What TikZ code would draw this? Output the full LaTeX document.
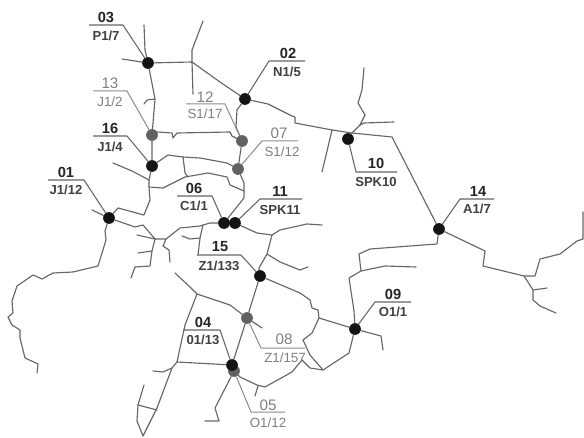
\documentclass[tikz,border=0pt]{standalone}
\usepackage{fontspec}
\setmainfont{Liberation Sans}
\begin{document}
\begin{tikzpicture}[x=0.75pt,y=-0.75pt,
  road/.style={draw=black!60,line width=0.85pt,line join=round,line cap=round},
  blackdot/.style={circle,fill=black!92,inner sep=0pt,minimum size=8.8pt},
  graydot/.style={circle,fill=black!62,inner sep=0pt,minimum size=8.8pt},
  leadblack/.style={draw=black!60,line width=0.8pt,line join=round},
  leadgray/.style={draw=black!45,line width=0.75pt,line join=round},
  numblack/.style={inner sep=0pt,text=black!85,font=\fontsize{11}{11}\selectfont\bfseries},
  subblack/.style={inner sep=0pt,text=black!75,font=\fontsize{9.8}{10}\selectfont\bfseries},
  numgray/.style={inner sep=0pt,text=black!50,font=\fontsize{11.4}{11}\selectfont},
  subgray/.style={inner sep=0pt,text=black!50,font=\fontsize{10}{10}\selectfont}]
\useasboundingbox (0,0) rectangle (584,438);
\fill[white] (0,0) rectangle (584,438);
% stations
\node[graydot] (d05) at (234,371) {};
\node[blackdot] (d03) at (148,63) {};
\node[blackdot] (d02) at (245,99) {};
\node[graydot] (d13) at (152,135) {};
\node[graydot] (d12) at (242,141) {};
\node[blackdot] (d16) at (152,166) {};
\node[graydot] (d07) at (238,169) {};
\node[blackdot] (d01) at (109,218) {};
\node[blackdot] (d06) at (224,223) {};
\node[blackdot] (d11) at (235,223) {};
\node[blackdot] (d10) at (348,139) {};
\node[blackdot] (d14) at (439,229) {};
\node[blackdot] (d15) at (260,276) {};
\node[graydot] (d08) at (247,318) {};
\node[blackdot] (d09) at (355,329) {};
\node[blackdot] (d04) at (232,365) {};
% junctions
\coordinate (jA) at (192,62);
\coordinate (jB) at (332,130);
\coordinate (jC) at (352,133);
\coordinate (jD) at (360,125);
\coordinate (jE) at (524,276);
\coordinate (jF) at (533,290);
\coordinate (jG) at (361,271);
\coordinate (jH) at (319,318);
\coordinate (jI) at (323,370);
\coordinate (jJ) at (272,235);
\coordinate (jK) at (267,254);
\coordinate (jL) at (197,294);
\coordinate (jM) at (177,362);
\coordinate (jN) at (172,368);
\coordinate (jO) at (138,405);
\coordinate (jP) at (149,187);
\coordinate (jQ) at (183,157);
\coordinate (jR) at (155,99);
\coordinate (jS) at (150,200);
\coordinate (jT) at (203,225);
\coordinate (jU) at (200,238);
\coordinate (jV) at (155,239);
\coordinate (jW) at (166,239);
\coordinate (jX) at (265,387);
\coordinate (jY) at (149,180);
% roads, north
\draw[road] (d03) -- (122,59);
\draw[road] (d03) -- (145,50) -- (144,25);
\draw[road] (d03) -- (jA) -- (192,50) -- (203,21);
\draw[road] (jA) -- (193,94);
\draw[road] (jA) -- (220,82) -- (d02);
\draw[road] (d02) -- (268,104) -- (292,116) -- (295,117) -- (295,123) -- (jB) -- (jC) -- (392,137) -- (d14);
\draw[road] (jB) -- (322,172);
\draw[road] (jC) -- (d10);
\draw[road] (jC) -- (jD) -- (365,115) -- (358,103) -- (362,90) -- (364,68);
\draw[road] (jD) -- (364,123) -- (394,122);
% east
\draw[road] (d14) -- (485,251) -- (483,266) -- (jE) -- (535,276) -- (540,259) -- (560,254) -- (577,241) -- (583,239) -- (583,212);
\draw[road] (jE) -- (jF) -- (533,300) -- (540,306) -- (556,313);
\draw[road] (jF) -- (547,288);
\draw[road] (d14) -- (437,244) -- (370,249) -- (359,254) -- (jG) -- (385,266) -- (416,267);
\draw[road] (jG) -- (349,278) -- (354,311) -- (d09);
\draw[road] (d09) -- (381,336) -- (383,350);
\draw[road] (d09) -- (349,353) -- (jI);
\draw[road] (d09) -- (jH) -- (318,310) -- (312,308) -- (310,300) -- (300,293) -- (d15);
\draw[road] (jH) -- (312,333) -- (303,340) -- (310,355) -- (jI);
\draw[road] (jI) -- (310,368) -- (302,360) -- (292,372) -- (jX) -- (257,385) -- (240,377) -- (d05);
\draw[road] (258,386) -- (255,396);
% centre spine
\draw[road] (d15) -- (d08) -- (d04);
\draw[road] (d08) -- (262,328);
\draw[road] (d15) -- (259,268) -- (jK) -- (jJ);
\draw[road] (jJ) -- (257,233) -- (d11);
\draw[road] (jJ) -- (280,230) -- (307,224) -- (322,225);
\draw[road] (jK) -- (280,262) -- (300,270) -- (308,267);
% south
\draw[road] (d08) -- (230,305) -- (jL) -- (190,287) -- (175,273);
\draw[road] (jL) -- (185,325) -- (jM) -- (d04);
\draw[road] (jM) -- (jN) -- (157,408) -- (143,436) -- (137,421) -- (jO) -- (144,385);
\draw[road] (jO) -- (157,410);
\draw[road] (jN) -- (163,372) -- (153,371);
\draw[road] (d05) -- (215,408) -- (219,421) -- (205,421);
% west
\draw[road] (d01) -- (105,231) -- (106,240) -- (98,266) -- (73,272) -- (53,273) -- (42,279) -- (33,275) -- (17,286) -- (12,301) -- (13,313) -- (8,317) -- (12,325) -- (20,330) -- (20,338) -- (25,358) -- (38,364) -- (37,373);
\draw[road] (d01) -- (92,210);
\draw[road] (d01) -- (135,227) -- (143,225) -- (jV) -- (jW) -- (180,228) -- (200,226) -- (jT) -- (210,223) -- (d06);
\draw[road] (jT) -- (jU) -- (198,255);
\draw[road] (jU) -- (190,239) -- (182,236);
\draw[road] (jV) -- (137,235);
\draw[road] (jV) -- (152,251) -- (138,253);
\draw[road] (152,251) -- (150,266) -- (135,267) -- (131,278);
\draw[road] (jW) -- (163,246) -- (169,250) -- (170,262);
\draw[road] (d01) -- (118,208) -- (144,215) -- (jS) -- (jP) -- (jY) -- (d16);
\draw[road] (113,163) -- (132,171) -- (jY);
\draw[road] (jP) -- (163,188) -- (185,177) -- (208,173) -- (227,177) -- (230,185) -- (244,191);
\draw[road] (d16) -- (d13) -- (jR) -- (d03);
\draw[road] (jR) -- (147,100) -- (144,104);
\draw[road] (d16) -- (168,155) -- (jQ) -- (200,158) -- (227,163) -- (d07);
\draw[road] (jQ) -- (185,173) -- (188,177);
\draw[road] (d13) -- (157,132) -- (172,133) -- (173,138) -- (177,133) -- (230,132) -- (232,136) -- (d12);
\draw[road] (d12) -- (d07);
\draw[road] (d12) -- (236,127) -- (237,110) -- (d02);
\draw[road] (d07) -- (244,183) -- (244,198) -- (d06);
% leaders
\draw[leadblack] (d03) -- (123,25) coordinate (l03) -- (89,25);
\draw[leadblack] (d02) -- (269,61) coordinate (l02) -- (305,61);
\draw[leadgray] (d13) -- (127,91) coordinate (l13) -- (93,91);
\draw[leadgray] (d12) -- (225,104) coordinate (l12) -- (186,104);
\draw[leadblack] (d16) -- (127,136) coordinate (l16) -- (93,136);
\draw[leadgray] (d07) -- (262,141) coordinate (l07) -- (298,141);
\draw[leadblack] (d01) -- (84,180) coordinate (l01) -- (48,180);
\draw[leadblack] (d06) -- (212,196) coordinate (l06) -- (177,196);
\draw[leadblack] (d11) -- (260,199) coordinate (l11) -- (302,199);
\draw[leadblack] (d10) -- (356,172) coordinate (l10) -- (397,172);
\draw[leadblack] (d14) -- (460,199) coordinate (l14) -- (494,199);
\draw[leadblack] (d15) -- (241,255) coordinate (l15) -- (197,255);
\draw[leadgray] (d08) -- (261,348) coordinate (l08) -- (305,348);
\draw[leadblack] (d09) -- (375,302) coordinate (l09) -- (411,302);
\draw[leadblack] (d04) -- (220,330) coordinate (l04) -- (183,330);
\draw[leadgray] (d05) -- (251,412) coordinate (l05) -- (285,412);
% labels
\node[numblack] (n03) at (106,17) {03};
\node[subblack] (s03) at (106,36) {P1/7};
\node[numblack] (n02) at (288,53) {02};
\node[subblack] (s02) at (287,72) {N1/5};
\node[numgray] (n13) at (110,83) {13};
\node[subgray] (s13) at (110,102) {J1/2};
\node[numgray] (n12) at (205,97) {12};
\node[subgray] (s12) at (205,114) {S1/17};
\node[numblack] (n16) at (110,128) {16};
\node[subblack] (s16) at (110,147) {J1/4};
\node[numgray] (n07) at (279,133) {07};
\node[subgray] (s07) at (282,152) {S1/12};
\node[numblack] (n01) at (66,172) {01};
\node[subblack] (s01) at (66,190) {J1/12};
\node[numblack] (n06) at (194,188) {06};
\node[subblack] (s06) at (194,206) {C1/1};
\node[numblack] (n11) at (280,191) {11};
\node[subblack] (s11) at (280,210) {SPK11};
\node[numblack] (n10) at (376,163) {10};
\node[subblack] (s10) at (376,182) {SPK10};
\node[numblack] (n14) at (478,191) {14};
\node[subblack] (s14) at (477,209) {A1/7};
\node[numblack] (n15) at (220,247) {15};
\node[subblack] (s15) at (219,266) {Z1/133};
\node[numblack] (n04) at (203,322) {04};
\node[subblack] (s04) at (203,340) {01/13};
\node[numgray] (n08) at (284,339) {08};
\node[subgray] (s08) at (285,358) {Z1/157};
\node[numblack] (n09) at (393,294) {09};
\node[subblack] (s09) at (393,312) {O1/1};
\node[numgray] (n05) at (268,405) {05};
\node[subgray] (s05) at (268,423) {O1/12};
\end{tikzpicture}
\end{document}
